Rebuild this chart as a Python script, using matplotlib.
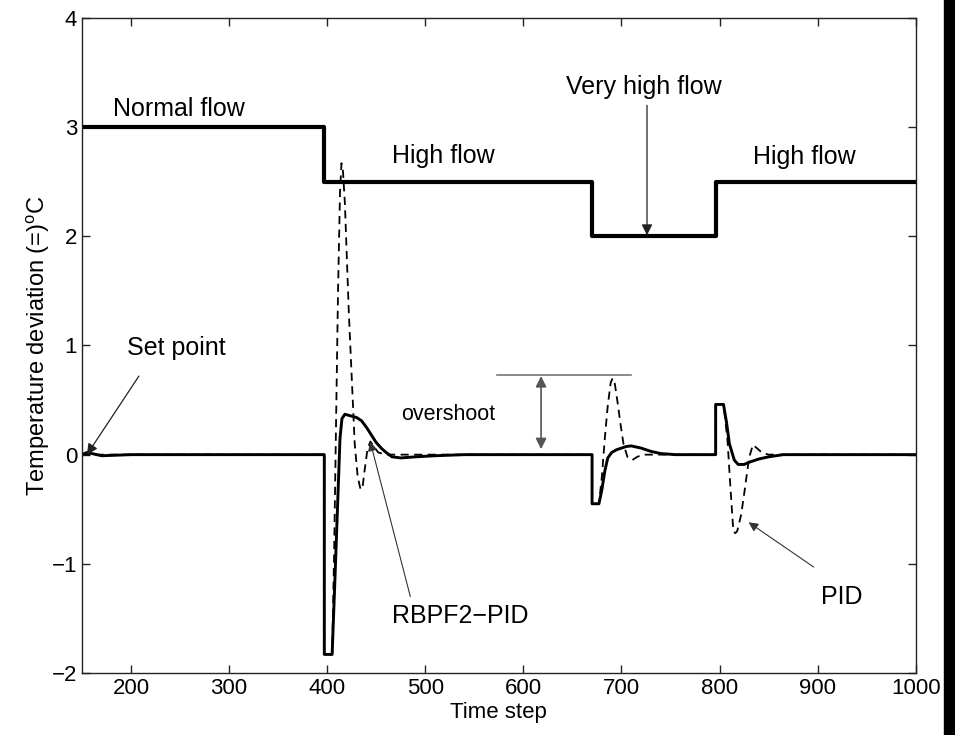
import matplotlib.pyplot as plt
from matplotlib.patches import Rectangle

# =====================================================================
# Data
# =====================================================================
# Flow regime (step changes)
flow_t = [150, 397, 670, 796, 1000]
flow_y = [3.0, 2.5, 2.0, 2.5, 2.5]

# RBPF2-PID response (solid)
rbpf_t = [150, 155, 160, 170, 200, 397, 397, 405, 408, 411, 413, 415, 418,
          422, 426, 430, 435, 440, 445, 450, 455, 460, 466, 475, 490, 510,
          540, 670, 670, 677, 680, 683, 686, 690, 695, 700, 705, 710, 715,
          720, 730, 740, 755, 775, 796, 796, 804, 807, 810, 815, 819, 825,
          830, 840, 850, 865, 880, 1000]
rbpf_y = [0.0, 0.02, 0.01, -0.01, 0.0, 0.0, -1.83, -1.83, -1.1, -0.35, 0.15,
          0.33, 0.37, 0.36, 0.35, 0.34, 0.31, 0.25, 0.18, 0.11, 0.06, 0.02,
          -0.02, -0.03, -0.02, -0.01, 0.0, 0.0, -0.45, -0.45, -0.32, -0.15,
          -0.03, 0.02, 0.045, 0.06, 0.075, 0.08, 0.07, 0.06, 0.03, 0.01, 0.0,
          0.0, 0.0, 0.46, 0.46, 0.3, 0.1, -0.05, -0.09, -0.09, -0.07, -0.04,
          -0.02, 0.0, 0.0, 0.0]

# PID response (dashed)
pid_t = [150, 397, 397, 405, 407, 409, 411, 413, 414.5, 416, 418, 420, 422,
         424, 426, 428, 431, 434, 436, 438, 441, 444, 447, 452, 460, 670, 670,
         677, 680, 683, 686, 689, 691, 693, 696, 699, 702, 706, 711, 716, 722,
         796, 796, 804, 806, 808, 811, 814, 816, 818, 822, 826, 829, 831, 834,
         838, 843, 850, 1000]
pid_y = [0.0, 0.0, -1.83, -1.83, -0.9, 0.3, 1.5, 2.4, 2.67, 2.6, 2.3, 1.8,
         1.3, 0.9, 0.5, 0.1, -0.2, -0.32, -0.3, -0.15, 0.05, 0.12, 0.08, 0.02,
         0.0, 0.0, -0.45, -0.45, -0.2, 0.15, 0.45, 0.66, 0.70, 0.66, 0.48,
         0.28, 0.1, -0.02, -0.05, -0.02, 0.0, 0.0, 0.46, 0.46, 0.3, 0.14,
         -0.29, -0.7, -0.72, -0.7, -0.55, -0.3, -0.1, 0.0, 0.09, 0.06, 0.02,
         0.0, 0.0]

X_TICKS = [200, 300, 400, 500, 600, 700, 800, 900, 1000]
Y_TICKS = [-2, -1, 0, 1, 2, 3, 4]

OUTPUT_IMAGE = "out.png"


def make_plot():
    plt.rcParams['font.family'] = ['Liberation Sans', 'DejaVu Sans']
    plt.rcParams['mathtext.fontset'] = 'custom'
    plt.rcParams['mathtext.rm'] = 'Liberation Sans'

    fig = plt.figure(figsize=(9.55, 7.35), dpi=100)
    ax = fig.add_axes([0.0859, 0.0844, 0.873, 0.8911])

    # flow regime line
    ax.plot(flow_t, flow_y, drawstyle='steps-post', color='black', lw=3.0)
    # controller responses
    ax.plot(pid_t, pid_y, color='black', lw=1.3, dashes=(4.5, 3.0))
    ax.plot(rbpf_t, rbpf_y, color='black', lw=2.1)

    ax.set_xlim(150, 1000)
    ax.set_ylim(-2, 4)
    ax.set_xticks(X_TICKS)
    ax.set_yticks(Y_TICKS)
    ax.tick_params(direction='in', length=6, width=1, labelsize=16,
                   top=True, right=True, color='#222222')
    for sp in ax.spines.values():
        sp.set_linewidth(1.0)
        sp.set_color('#222222')

    ax.set_xlabel("Time step", fontsize=16, labelpad=2)
    ax.set_ylabel(r"Temperature deviation (=)$^{\rm o}$C", fontsize=17, labelpad=0)

    # regime labels
    ax.text(182, 3.17, "Normal flow", fontsize=18, ha='left', va='center')
    ax.text(466, 2.74, "High flow", fontsize=18, ha='left', va='center')
    ax.text(723, 3.37, "Very high flow", fontsize=18, ha='center', va='center')
    ax.text(834, 2.73, "High flow", fontsize=18, ha='left', va='center')
    ax.annotate("", xy=(726, 2.01), xytext=(726, 3.2),
                arrowprops=dict(arrowstyle='-|>', color='#222222', lw=0.9,
                                mutation_scale=16, shrinkA=0, shrinkB=0))

    # set point
    ax.text(196, 0.98, "Set point", fontsize=18, ha='left', va='center')
    ax.annotate("", xy=(155, 0.0), xytext=(208, 0.72),
                arrowprops=dict(arrowstyle='-|>', color='#222222', lw=0.9,
                                mutation_scale=16, shrinkA=0, shrinkB=0))

    # overshoot marker
    ax.plot([573, 710], [0.73, 0.73], color='#777777', lw=1.2)
    ax.annotate("", xy=(618, 0.05), xytext=(618, 0.72),
                arrowprops=dict(arrowstyle='<|-|>', color='#555555', lw=1.2,
                                mutation_scale=16, shrinkA=0, shrinkB=0))
    ax.text(475, 0.37, "overshoot", fontsize=15.5, ha='left', va='center')

    # controller labels
    ax.text(466, -1.48, "RBPF2\u2212PID", fontsize=18, ha='left', va='center')
    ax.annotate("", xy=(443.8, 0.12), xytext=(484.7, -1.3),
                arrowprops=dict(arrowstyle='-|>', color='#333333', lw=0.8,
                                mutation_scale=14, shrinkA=0, shrinkB=0))
    ax.text(903, -1.3, "PID", fontsize=18, ha='left', va='center')
    ax.annotate("", xy=(829.6, -0.62), xytext=(896, -1.03),
                arrowprops=dict(arrowstyle='-|>', color='#333333', lw=0.8,
                                mutation_scale=14, shrinkA=0, shrinkB=0))

    # black bar along the right edge of the scanned page
    fig.patches.append(Rectangle((944 / 955, 0), 11 / 955, 1,
                                 transform=fig.transFigure, color='black'))

    fig.savefig(OUTPUT_IMAGE, dpi=100)


if __name__ == "__main__":
    make_plot()
